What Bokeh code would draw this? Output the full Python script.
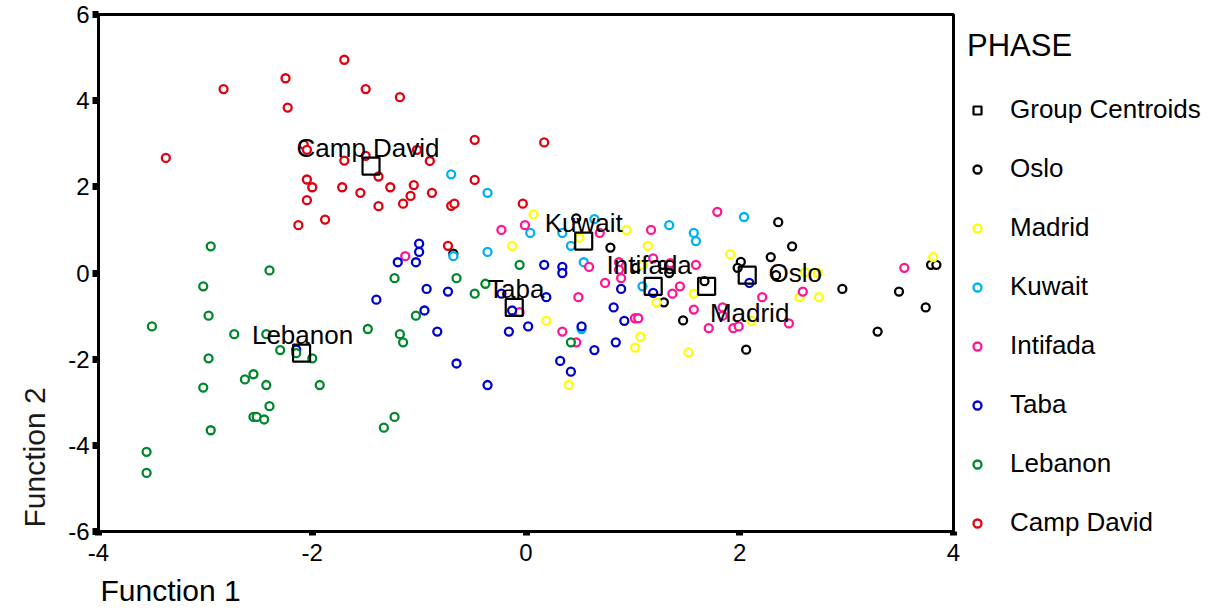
from bokeh.plotting import figure
from bokeh.models import Legend, LegendItem, Title, FixedTicker, ColumnDataSource
from bokeh.embed import file_html
from bokeh.resources import INLINE
from bokeh.core.properties import value

# ---------------- data ----------------
phases = ["Oslo", "Madrid", "Kuwait", "Intifada", "Taba", "Lebanon", "Camp David"]

oslo_x = [0.47, 0.79, -0.68, 1.03, 1.28, 1.34, 1.34, 1.29, 2.36, 2.49, 2.29, 2.01, 1.98, 2.34, 1.67,
          2.96, 3.49, 3.79, 3.84, 3.74, 3.29, 1.47, 2.06]
oslo_y = [1.27, 0.59, 0.45, 0.12, 0.19, 0.19, 0.00, -0.68, 1.18, 0.62, 0.37, 0.26, 0.12, -0.05, -0.19,
          -0.37, -0.43, 0.19, 0.19, -0.80, -1.36, -1.10, -1.78]

madrid_x = [0.07, 0.50, 0.94, 1.14, -0.13, 1.09, 1.22, 0.19, 1.07, 1.02, 0.40, 1.91, 2.61, 2.73, 1.57,
            2.56, 2.74, 3.81, 2.11, 1.52]
madrid_y = [1.36, 0.82, 1.00, 0.63, 0.63, 0.19, -0.68, -1.11, -1.48, -1.73, -2.60, 0.43, 0.02, 0.00, -0.48,
            -0.56, -0.56, 0.37, -1.11, -1.84]

kuwait_x = [-0.70, -0.36, 0.04, 0.34, 0.64, 0.42, 1.34, -0.36, -0.68, 0.54, 1.09, 0.52, 2.04, 1.57, 1.59]
kuwait_y = [2.29, 1.86, 0.93, 0.93, 1.25, 0.63, 1.11, 0.49, 0.39, 0.25, -0.31, -1.30, 1.30, 0.93, 0.74]

intifada_x = [-0.01, -0.23, 0.69, 1.17, -1.13, 0.59, 0.87, 0.87, 0.89, 0.74, 1.19, 1.35, 1.37, 0.49, -0.06,
              1.02, 1.05, 0.34, 0.47, 1.79, 1.59, 1.44, 2.21, 2.59, 3.54, 1.57, 1.84, 1.84, 2.46, 1.71,
              1.94, 1.99]
intifada_y = [1.11, 1.00, 0.93, 1.00, 0.39, 0.14, 0.25, 0.08, -0.12, -0.23, 0.34, 0.23, -0.48, -0.56, -0.91,
              -1.05, -1.05, -1.36, -1.61, 1.42, 0.19, -0.31, -0.56, -0.43, 0.12, -0.85, -0.80, -0.99, -1.17, -1.28,
              -1.28, -1.24]

taba_x = [-1.40, -2.15, -1.00, -1.00, -1.20, -1.03, 0.17, 0.34, 0.34, 0.89, 1.19, -0.93, -0.73, -0.23, 0.19,
          -0.13, -0.95, 0.82, 0.92, 0.02, -0.16, -0.83, 0.52, 0.84, 0.64, 0.32, 0.42, -0.65, -0.36, 2.09]
taba_y = [-0.62, -1.78, 0.68, 0.49, 0.25, 0.25, 0.19, 0.14, 0.00, -0.37, -0.46, -0.37, -0.43, -0.48, -0.56,
          -0.87, -0.87, -0.80, -1.11, -1.24, -1.36, -1.36, -1.24, -1.61, -1.79, -2.04, -2.29, -2.10, -2.60, -0.23]

lebanon_x = [-2.95, -2.40, -3.02, -2.97, -3.50, -2.73, -2.43, -1.48, -2.30, -2.15, -2.00, -2.97, -2.55, -2.63,
             -2.43, -1.93, -3.02, -2.40, -2.55, -2.52, -2.45, -2.95, -3.55, -3.55, -1.33, -1.23, -1.23, -0.65,
             -0.38, -0.48, -1.03, -1.18, -1.15, 0.42, -0.06]
lebanon_y = [0.62, 0.06, -0.31, -0.99, -1.24, -1.42, -1.42, -1.30, -1.79, -1.86, -1.98, -1.98, -2.35, -2.47,
             -2.60, -2.60, -2.66, -3.09, -3.34, -3.34, -3.40, -3.65, -4.15, -4.64, -3.59, -3.34, -0.12, -0.12,
             -0.25, -0.48, -0.99, -1.42, -1.61, -1.61, 0.19]

campdavid_x = [-1.70, -2.25, -2.83, -1.50, -2.23, -1.18, -3.37, -2.08, -2.05, -1.70, -1.50, -1.38, -2.05, -2.00,
               -1.72, -1.55, -1.27, -2.05, -1.38, -0.48, 0.17, -1.02, -0.90, -0.48, -1.05, -1.08, -0.88, -1.15,
               -0.70, -0.67, -0.03, -1.88, -2.13, -0.73]
campdavid_y = [4.95, 4.52, 4.27, 4.27, 3.84, 4.08, 2.67, 2.98, 2.86, 2.61, 2.72, 2.24, 2.17, 1.99,
               1.99, 1.86, 1.99, 1.69, 1.55, 3.09, 3.03, 2.86, 2.60, 2.16, 2.04, 1.79, 1.86, 1.61,
               1.56, 1.61, 1.61, 1.24, 1.11, 0.63]

centroid_x = [2.07, 1.69, 0.54, 1.19, -0.11, -2.10, -1.45]
centroid_y = [-0.05, -0.31, 0.74, -0.31, -0.80, -1.86, 2.48]

x_ticks = [-4, -2, 0, 2, 4]
y_ticks = [-6, -4, -2, 0, 2, 4, 6]

# ---------------- style ----------------
colors = ["#000000", "#FFFF00", "#00B0F0", "#FF1493", "#0000CC", "#00862B", "#E00010"]
label_dx = [48, 43, 0, -4, 2, 1, -3]
label_dy = [-2, 27, -18, -21, -18, -18, -18]
FONT = "Liberation Sans"

series = [(oslo_x, oslo_y), (madrid_x, madrid_y), (kuwait_x, kuwait_y), (intifada_x, intifada_y),
          (taba_x, taba_y), (lebanon_x, lebanon_y), (campdavid_x, campdavid_y)]

p = figure(frame_width=855, frame_height=517, x_range=(-4, 4), y_range=(-6, 6),
           output_backend="svg", toolbar_location=None,
           min_border_left=98, min_border_top=14, min_border_bottom=80, min_border_right=2)
p.xgrid.visible = False
p.ygrid.visible = False
p.background_fill_color = "white"
p.border_fill_color = "white"
p.outline_line_color = "black"
p.outline_line_width = 3

for ax, ticks in ((p.xaxis[0], x_ticks), (p.yaxis[0], y_ticks)):
    ax.ticker = FixedTicker(ticks=ticks)
    ax.major_label_overrides = {t: str(t) for t in ticks}
    ax.minor_tick_line_color = None
    ax.axis_line_width = 3
    ax.axis_line_color = "black"
    ax.major_tick_line_color = "black"
    ax.major_tick_in = 0
    ax.major_label_text_font = FONT
    ax.major_label_text_font_size = "24px"
    ax.major_label_text_color = "black"
p.xaxis.major_tick_out = 4
p.xaxis.major_tick_line_width = 7
p.xaxis.major_label_standoff = 8
p.yaxis.major_tick_out = 6
p.yaxis.major_tick_line_width = 7
p.yaxis.major_label_standoff = 3

p.add_layout(Title(text="Function 1", align="left", text_font=FONT, text_font_size="30px",
                   text_font_style="normal", text_color="black", offset=2, standoff=16), "below")
p.add_layout(Title(text="Function 2", align="left", text_font=FONT, text_font_size="30px",
                   text_font_style="normal", text_color="#1a1a1a", offset=4, standoff=30), "left")

items = []
renderers = []
for name, (xs, ys), col in zip(phases, series, colors):
    r = p.scatter(xs, ys, marker="circle", size=8, line_color=col, line_width=2.3, fill_color="white")
    renderers.append((name, r))

cr = p.scatter(centroid_x, centroid_y, marker="square", size=17, line_color="black", line_width=2.2,
               fill_color=None)

src = ColumnDataSource(dict(x=centroid_x, y=centroid_y, t=phases, dx=label_dx, dy=label_dy))
p.text(x="x", y="y", text="t", x_offset="dx", y_offset="dy", source=src, text_align="center",
       text_baseline="middle", text_font=value(FONT), text_font_size="26px", text_color="black")

items.append(LegendItem(label="Group Centroids", renderers=[cr]))
for name, r in renderers:
    items.append(LegendItem(label=name, renderers=[r]))

legend = Legend(items=items, title="PHASE", location="top_left",
                title_text_font=FONT, title_text_font_size="31px", title_text_font_style="normal",
                title_text_color="black", title_standoff=30,
                label_text_font=FONT, label_text_font_size="26px", label_text_color="black",
                label_standoff=23, glyph_width=20, glyph_height=22, label_height=22,
                spacing=28, padding=4, margin=14, border_line_color=None, background_fill_alpha=0)
p.add_layout(legend, "right")

open("out.html", "w").write(file_html(p, INLINE))
